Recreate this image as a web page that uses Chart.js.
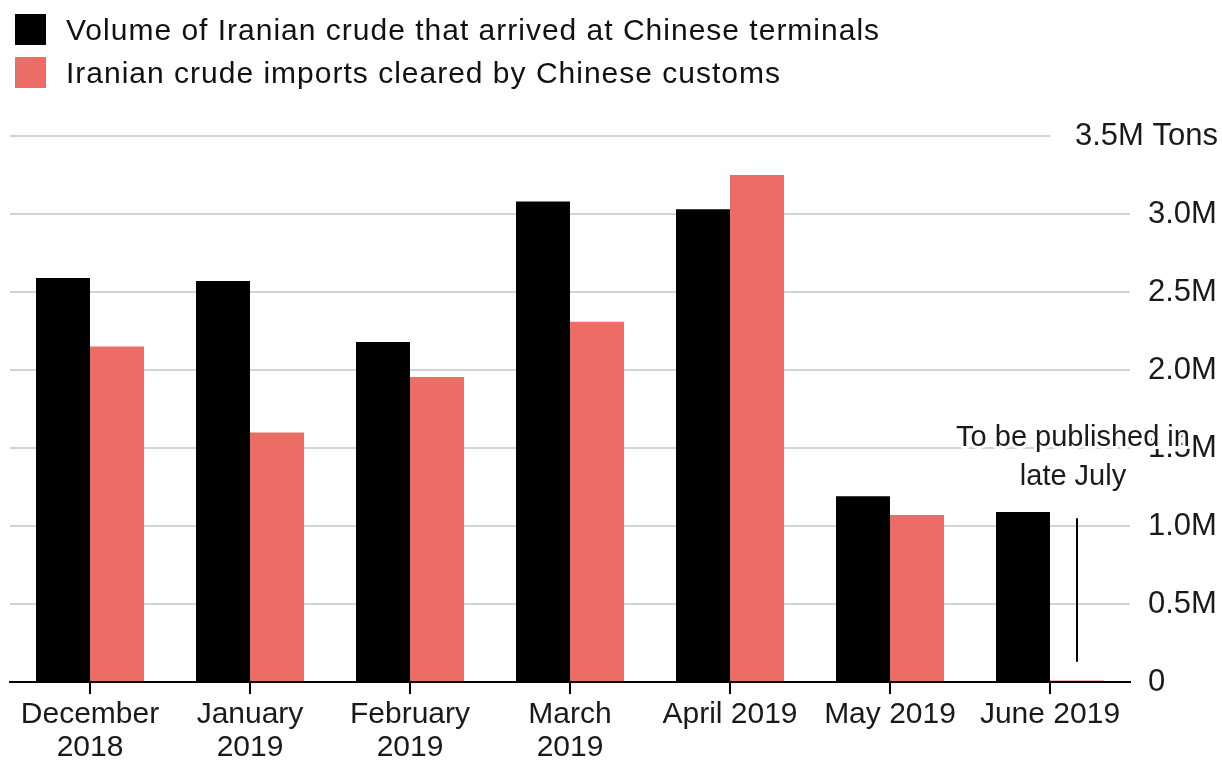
<!DOCTYPE html>
<html>
<head>
<meta charset="utf-8">
<script src="https://cdn.jsdelivr.net/npm/chart.js@4.4.1/dist/chart.umd.min.js"></script>
<style>
  html, body { margin: 0; padding: 0; background: #fff; }
  #wrap { position: relative; width: 1222px; height: 763px; font-family: "Liberation Sans", Arial, sans-serif; color: #111; }
  #chart { position: absolute; left: 0; top: 0; }
  .key { position: absolute; left: 15px; height: 31px; display: flex; align-items: center; font-size: 30px; letter-spacing: 1px; white-space: nowrap; }
  .key span { display: inline-block; width: 31px; height: 31px; margin-right: 20px; }
</style>
</head>
<body>
<div id="wrap">
  <canvas id="chart" width="1222" height="763"></canvas>
  <div class="key" style="top:14px"><span style="background:#000"></span>Volume of Iranian crude that arrived at Chinese terminals</div>
  <div class="key" style="top:57px"><span style="background:#ec6c66"></span>Iranian crude imports cleared by Chinese customs</div>
</div>
<script>
// Monthly volumes, million tons
const months = [['December', '2018'], ['January', '2019'], ['February', '2019'], ['March', '2019'], 'April 2019', 'May 2019', 'June 2019'];
const arrived = [2.59, 2.57, 2.18, 3.08, 3.03, 1.19, 1.09];
const cleared = [2.15, 1.60, 1.955, 2.31, 3.25, 1.07, 0.01];

const yTickValues = [0, 0.5, 1, 1.5, 2, 2.5, 3, 3.5];
const yTickLabels = ['0', '0.5M', '1.0M', '1.5M', '2.0M', '2.5M', '3.0M', '3.5M Tons'];

// June customs figure not out yet: pointer line range and note
const noteRange = [1.05, 0.13];
const noteLines = ['To be published in', 'late July'];

const FONT = '"Liberation Sans", Arial, sans-serif';
const RED = '#ec6c66';

// draws the top tick label (with unit) and the June note
const overlay = {
  id: 'overlay',
  afterDraw(chart) {
    const { ctx, chartArea, scales: { y } } = chart;
    ctx.save();
    ctx.textBaseline = 'middle';

    // top label sits on a white patch over the gridline
    ctx.font = '31px ' + FONT;
    const topLabel = yTickLabels[yTickLabels.length - 1];
    const ty = y.getPixelForValue(yTickValues[yTickValues.length - 1]);
    const right = chart.width - 4;
    const w = ctx.measureText(topLabel).width;
    ctx.fillStyle = '#fff';
    ctx.fillRect(right - w - 25, ty - 5, w + 25, 10);
    ctx.fillStyle = '#1a1a1a';
    ctx.textAlign = 'right';
    ctx.fillText(topLabel, right, ty);

    // pointer line over the empty June bar
    const bar = chart.getDatasetMeta(1).data[cleared.length - 1];
    const y0 = y.getPixelForValue(noteRange[0]);
    const y1 = y.getPixelForValue(noteRange[1]);
    ctx.strokeStyle = '#000';
    ctx.lineWidth = 2;
    ctx.beginPath();
    ctx.moveTo(bar.x, y0);
    ctx.lineTo(bar.x, y1);
    ctx.stroke();

    // note text, centred on the pointer, with a white halo
    ctx.font = '29px ' + FONT;
    ctx.textAlign = 'center';
    ctx.lineJoin = 'round';
    noteLines.forEach((t, i) => {
      const ly = y0 - 80 + i * 39;
      const tw = ctx.measureText(t).width;
      const left = bar.x - 4 - tw / 2;
      ctx.fillStyle = '#fff';
      ctx.fillRect(left, ly - 6, chartArea.right - left, 12);
      ctx.strokeStyle = '#fff';
      ctx.lineWidth = 6;
      ctx.strokeText(t, bar.x - 4, ly);
      ctx.fillStyle = '#1a1a1a';
      ctx.fillText(t, bar.x - 4, ly);
    });
    ctx.restore();
  }
};

new Chart(document.getElementById('chart'), {
  type: 'bar',
  data: {
    labels: months,
    datasets: [
      { label: 'Volume of Iranian crude that arrived at Chinese terminals', data: arrived, backgroundColor: '#000' },
      { label: 'Iranian crude imports cleared by Chinese customs', data: cleared, backgroundColor: RED }
    ]
  },
  options: {
    responsive: false,
    animation: false,
    layout: { padding: { top: 136, left: 10, right: 0, bottom: 0 } },
    datasets: { bar: { categoryPercentage: 0.675, barPercentage: 1.0 } },
    plugins: { legend: { display: false }, tooltip: { enabled: false } },
    scales: {
      x: {
        grid: { display: true, drawOnChartArea: false, drawTicks: true, tickLength: 12, color: '#000', lineWidth: 2, offset: false },
        border: { display: true, color: '#000', width: 2 },
        ticks: { color: '#1a1a1a', font: { family: FONT, size: 30, lineHeight: 1.1 }, padding: 4, maxRotation: 0, autoSkip: false },
        afterFit(scale) { scale.height = 81; }
      },
      y: {
        position: 'right',
        min: 0,
        max: 3.5,
        afterBuildTicks(scale) { scale.ticks = yTickValues.map(v => ({ value: v })); },
        grid: {
          drawTicks: false,
          lineWidth: 2,
          color: ctx => (ctx.tick && ctx.tick.value === 0) ? 'rgba(0,0,0,0)' : '#d3d3d3'
        },
        border: { display: false },
        ticks: {
          padding: 18,
          color: '#1a1a1a',
          font: { family: FONT, size: 31 },
          callback: (v) => {
            const i = yTickValues.indexOf(v);
            return i === yTickValues.length - 1 ? '' : yTickLabels[i];
          }
        },
        afterFit(scale) { scale.width = 92; }
      }
    }
  },
  plugins: [overlay]
});
</script>
</body>
</html>
